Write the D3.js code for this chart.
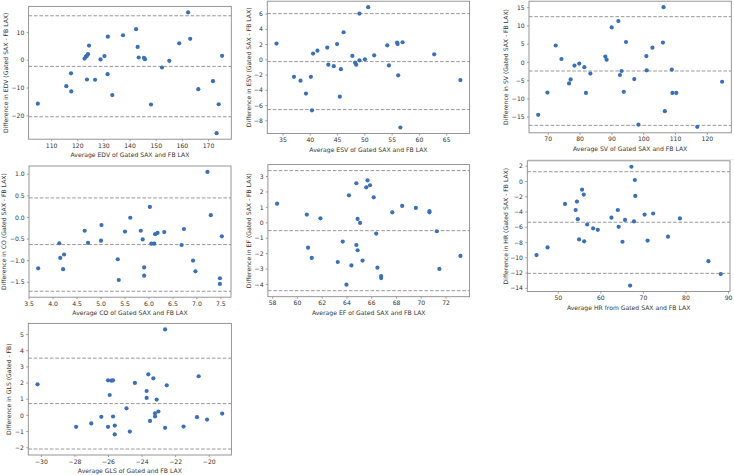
<!DOCTYPE html>
<html><head><meta charset="utf-8">
<script src="https://cdn.jsdelivr.net/npm/d3@7"></script>
<style>
body{margin:0;background:#fff;}
svg{display:block;font-family:"DejaVu Sans",sans-serif;}
</style></head><body>
<svg id="chart" width="734" height="475"></svg>
<script>
// ---------- DATA ----------
const edvAvg = [104.9,115.8,117.6,117.7,122.8,123.3,123.7,124.1,124.5,123.7,126.8,128.9,130.4,131.7,131.6,133.4,137.5,142.5,143.1,143.5,145.5,145.9,148.2,152.4,155.2,159.0,162.4,163.2,166.3,171.9,174.1,173.3,175.4];
const edvDiff = [-15.8,-9.5,-4.9,-11.4,0.4,1.1,1.4,2.0,5.1,-7.1,-7.2,0.1,1.3,8.3,-5.2,-12.7,8.8,11.0,4.6,0.8,0.7,0.2,-16.1,-2.8,-0.4,5.9,17.0,7.5,-10.6,-7.7,-16.0,-26.4,1.4];
const edvLines = [15.8,-2.4,-20.5];
const edvXTicks = [110,120,130,140,150,160,170];
const edvYTicks = [-20,-10,0,10];

const esvAvg = [33.9,37.1,38.3,39.3,40.2,40.4,40.6,41.4,43.2,43.4,44.4,45.0,45.5,45.7,46.2,47.8,48.3,48.5,49.1,49.1,50.1,50.7,51.8,54.2,54.5,56.0,56.1,56.2,56.6,57.0,62.8,67.6];
const esvDiff = [2.06,-2.3,-2.8,-4.5,-2.3,-6.7,0.75,1.14,1.54,-0.7,-0.9,2.0,-4.9,-1.3,3.55,0.44,-0.44,-0.7,6.0,-0.13,0.0,6.84,0.53,1.84,-0.8,2.2,2.0,-2.1,-8.95,2.24,0.66,-2.72];
const esvLines = [6.0,-0.3,-6.6];
const esvXTicks = [35,40,45,50,55,60,65];
const esvYTicks = [-8,-6,-4,-2,0,2,4,6];

const svAvg = [67.0,69.9,72.5,74.3,76.7,77.2,78.4,79.9,81.5,82.0,83.4,88.1,88.5,90.1,92.2,92.7,93.2,93.9,94.6,97.2,98.5,101.0,101.1,102.9,106.2,106.4,106.8,109.0,109.2,110.4,117.0,124.8];
const svDiff = [-14.5,-8.4,4.5,0.8,-5.9,-4.8,-1.0,-0.45,-1.45,-8.5,-3.2,1.45,0.6,9.45,11.2,-3.6,-2.5,-8.2,5.45,-4.7,-17.2,1.6,-2.3,3.9,5.3,15.0,-13.5,-2.1,-8.5,-8.5,-17.8,-5.45];
const svLines = [12.4,-2.5,-17.4];
const svXTicks = [70,80,90,100,110,120];
const svYTicks = [-15,-10,-5,0,5,10,15];

const coAvg = [3.70,4.14,4.16,4.24,4.22,4.67,4.74,5.01,5.02,5.36,5.38,5.51,5.62,5.84,5.88,5.91,5.91,6.03,6.06,6.12,6.14,6.19,6.33,6.69,6.74,6.93,6.98,7.23,7.30,7.49,7.49,7.53];
const coDiff = [-1.19,-0.61,-0.95,-0.87,-1.21,-0.32,-0.60,-0.55,-0.19,-0.98,-1.46,-0.34,-0.02,-0.32,-0.52,-1.17,-1.36,0.23,-0.62,-0.62,-0.40,-0.37,-0.35,-0.65,-0.28,-1.01,-1.26,1.04,0.04,-1.42,-1.55,-0.45];
const coLines = [0.44,-0.64,-1.72];
const coXTicks = [3.5,4.0,4.5,5.0,5.5,6.0,6.5,7.0,7.5];
const coYTicks = [-1.5,-1.0,-0.5,0.0,0.5,1.0];

const efAvg = [58.4,60.8,60.9,61.2,61.9,63.3,63.7,64.2,64.4,64.0,64.8,64.8,64.9,64.9,65.1,65.3,65.6,65.7,65.9,66.2,66.4,66.5,66.8,66.8,67.7,68.5,69.6,70.7,70.7,71.3,71.5,73.2];
const efDiff = [1.21,0.50,-1.64,-2.31,0.26,-2.57,-1.25,1.75,-2.79,-4.04,2.53,-1.47,0.22,-1.81,-0.04,-2.48,2.27,2.72,2.40,1.62,-0.73,-2.94,-3.48,-3.61,0.65,1.06,0.93,0.73,0.65,-0.58,-3.02,-2.18];
const efLines = [3.35,-0.54,-4.43];
const efXTicks = [58,60,62,64,66,68,70,72];
const efYTicks = [-4,-3,-2,-1,0,1,2,3];

const hrAvg = [45.0,47.6,51.7,54.5,54.2,54.7,55.0,55.7,56.1,56.2,56.9,58.3,59.4,62.6,64.1,64.3,65.2,65.8,67.0,67.3,67.9,68.1,68.2,70.4,71.1,72.4,75.9,78.7,85.4,88.3];
const hrDiff = [-9.7,-8.7,-3.0,-2.7,-3.8,-5.0,-7.65,-1.13,-1.78,-7.9,-5.7,-6.2,-6.4,-4.8,-3.8,-6.0,-7.96,-5.1,-13.7,1.87,-5.3,0.13,-1.96,-4.4,-7.8,-4.26,-7.3,-4.9,-10.5,-12.2];
const hrLines = [1.22,-5.4,-12.1];
const hrXTicks = [50,60,70,80,90];
const hrYTicks = [-14,-12,-10,-8,-6,-4,-2,0,2];

const glsAvg = [-30.2,-27.9,-27.0,-26.4,-26.0,-26.0,-25.9,-25.8,-25.7,-25.7,-25.6,-25.6,-24.9,-24.7,-24.4,-23.7,-23.7,-23.6,-23.5,-23.3,-23.2,-23.2,-23.1,-23.0,-22.6,-22.6,-22.5,-21.5,-20.7,-20.6,-20.1,-19.2];
const glsDiff = [1.89,-0.74,-0.53,-0.12,-0.74,2.14,1.23,2.12,2.14,-0.10,-0.66,-1.21,0.41,-1.03,1.98,1.05,1.48,2.51,-0.37,2.26,0.10,-0.10,0.95,0.21,5.29,-0.80,1.83,-0.72,-0.14,2.39,-0.29,0.08];
const glsLines = [3.51,0.70,-2.11];
const glsXTicks = [-30,-28,-26,-24,-22,-20];
const glsYTicks = [-2,-1,0,1,2,3,4,5];

const xLabels = ["Average EDV of Gated SAX and FB LAX","Average ESV of Gated SAX and FB LAX","Average SV of Gated SAX and FB LAX","Average CO of Gated SAX and FB LAX","Average EF of Gated SAX and FB LAX","Average HR from Gated SAX and FB LAX","Average GLS of Gated and FB LAX"];
const yLabels = ["Difference in EDV (Gated SAX - FB LAX)","Difference in ESV (Gated SAX - FB LAX)","Difference in SV (Gated SAX - FB LAX)","Difference in CO (Gated SAX - FB LAX)","Difference in EF (Gated SAX - FB LAX)","Difference in HR (Gated SAX - FB LAX)","Difference in GLS (Gated - FB)"];

// ---------- LAYOUT ----------
const FS = 6.1;
const dotColor = "#3b70b6";
const axisColor = "#8a8a8a";
const textColor = "#333";
const fmtInt = d => d3.format("d")(d).replace("-", "\u2212");
const fmt1 = d => d3.format(".1f")(d).replace("-", "\u2212");

const panels = [
  {avg: edvAvg, diff: edvDiff, lines: edvLines, xt: edvXTicks, yt: edvYTicks, fx: fmtInt, fy: fmtInt, box: [28.6,231.3,6.4,139.2], ylx: 6},
  {avg: esvAvg, diff: esvDiff, lines: esvLines, xt: esvXTicks, yt: esvYTicks, fx: fmtInt, fy: fmtInt, box: [267.3,469.6,1.2,133.5], ylx: 248.7},
  {avg: svAvg, diff: svDiff, lines: svLines, xt: svXTicks, yt: svYTicks, fx: fmtInt, fy: fmtInt, box: [529,731.3,1.2,132.8], ylx: 505.7},
  {avg: coAvg, diff: coDiff, lines: coLines, xt: coXTicks, yt: coYTicks, fx: fmt1, fy: fmt1, box: [29,231,166,297.2], ylx: 3.5},
  {avg: efAvg, diff: efDiff, lines: efLines, xt: efXTicks, yt: efYTicks, fx: fmtInt, fy: fmtInt, box: [267.9,469.6,164.6,296.7], ylx: 249},
  {avg: hrAvg, diff: hrDiff, lines: hrLines, xt: hrXTicks, yt: hrYTicks, fx: fmtInt, fy: fmtInt, box: [527.3,730,160.8,291.5], ylx: 505.7},
  {avg: glsAvg, diff: glsDiff, lines: glsLines, xt: glsXTicks, yt: glsYTicks, fx: fmtInt, fy: fmtInt, box: [28.3,231.4,323.4,455], ylx: 9}
];

const svg = d3.select("#chart");
svg.append("rect").attr("width",734).attr("height",475).attr("fill","#fff");

function padded(vals){
  const [a,b] = d3.extent(vals);
  const m = (b-a)*0.05;
  return [a-m, b+m];
}

panels.forEach((p, i) => {
  const [x0,x1,y0,y1] = p.box;
  const x = d3.scaleLinear().domain(padded(p.avg)).range([x0,x1]);
  const y = d3.scaleLinear().domain(padded(p.diff.concat(p.lines))).range([y1,y0]);
  const g = svg.append("g");

  // limit lines
  g.selectAll("line.lim").data(p.lines).join("line")
    .attr("x1", x0).attr("x2", x1)
    .attr("y1", d => y(d)).attr("y2", d => y(d))
    .attr("stroke", "#8c8c8c").attr("stroke-width", 0.9)
    .attr("stroke-dasharray", "3.6,1.8");

  // points
  g.selectAll("circle").data(p.avg.map((a,k)=>[a,p.diff[k]])).join("circle")
    .attr("cx", d => x(d[0])).attr("cy", d => y(d[1]))
    .attr("r", 2.1).attr("fill", dotColor);

  // axes
  const xa = g.append("g").attr("transform", `translate(0,${y1})`)
    .call(d3.axisBottom(x).tickValues(p.xt).tickFormat(p.fx).tickSize(2).tickSizeOuter(0));
  const ya = g.append("g").attr("transform", `translate(${x0},0)`)
    .call(d3.axisLeft(y).tickValues(p.yt).tickFormat(p.fy).tickSize(2).tickSizeOuter(0));
  [xa, ya].forEach(a => {
    a.select(".domain").remove();
    a.selectAll(".tick line").attr("stroke", axisColor).attr("stroke-width", 0.8);
    a.selectAll(".tick text").attr("fill", textColor).style("font-size", FS+"px").style("font-family","DejaVu Sans");
  });
  xa.selectAll(".tick text").attr("y", 6.5).attr("dy", "0.35em");
  ya.selectAll(".tick text").attr("x", -4.3).attr("dy", "0.35em");

  // frame
  g.append("rect").attr("x", x0).attr("y", y0).attr("width", x1-x0).attr("height", y1-y0)
    .attr("fill", "none").attr("stroke", axisColor).attr("stroke-width", 0.9);

  // labels
  g.append("text").attr("x", (x0+x1)/2).attr("y", y1+16).attr("dy","0.35em")
    .attr("text-anchor","middle").attr("fill", textColor).style("font-size", FS+"px")
    .text(xLabels[i]);
  g.append("text").attr("transform", `translate(${p.ylx},${(y0+y1)/2}) rotate(-90)`)
    .attr("dy","0.35em").attr("text-anchor","middle").attr("fill", textColor).style("font-size", FS+"px")
    .text(yLabels[i]);
});

// faint image-edge line under the SV panel in the reference
svg.append("line").attr("x1",528).attr("x2",734).attr("y1",159.5).attr("y2",159.5)
  .attr("stroke","#ececec").attr("stroke-width",1);
</script>
</body></html>
